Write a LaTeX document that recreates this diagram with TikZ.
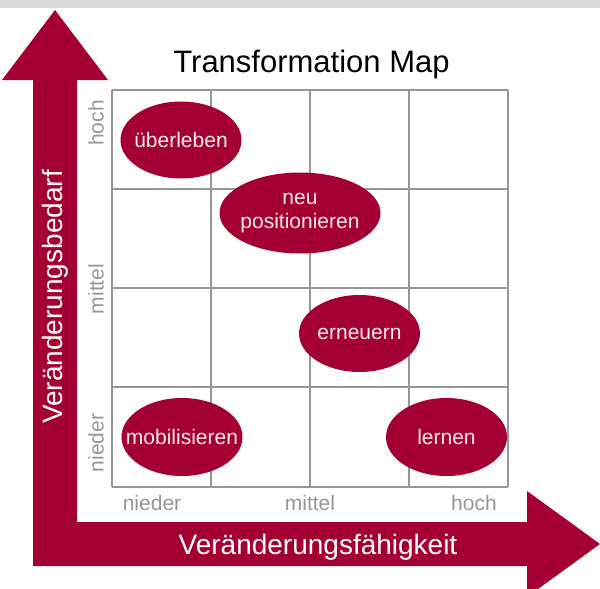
\documentclass[tikz,border=0pt]{standalone}
\usepackage{fontspec}
\setmainfont{Liberation Sans}
\usepackage{xcolor}
\definecolor{bordeaux}{RGB}{165,0,52}
\definecolor{gridgray}{RGB}{150,150,150}
\definecolor{bargray}{RGB}{217,217,217}
\definecolor{lighttext}{RGB}{248,234,239}
\tikzset{
	feldtext/.style={text=lighttext, align=center, font=\fontsize{21}{24}\selectfont},
	stufe/.style={text=gridgray, font=\fontsize{21}{24}\selectfont},
	achse/.style={text=white, font=\fontsize{28}{32}\selectfont}
}

\begin{document}
\begin{tikzpicture}[x=1pt,y=-1pt]
\useasboundingbox (0,0) rectangle (600,589);
\fill[bargray] (0,0) rectangle (600,8);
\begin{scope}
\clip (0,0) rectangle (600,589);
\fill[bordeaux] (33,566) -- (33,80) -- (2,80) -- (55,10) -- (108,80) -- (77,80) -- (77,522)
	-- (527,522) -- (527,491) -- (600,544) -- (527,597) -- (527,566) -- cycle;
\end{scope}
\foreach \i in {112,211,310,409,508}{
	\draw[gridgray, line width=2pt] (\i,90) -- (\i,487);
	}
\foreach \i in {90,189,288,387,487}{
	\draw[gridgray, line width=2pt] (112,\i) -- (508,\i);
	}

\node[anchor=base, font=\fontsize{31}{36}\selectfont] (titel) at (311.5,72) {Transformation Map};

\fill[bordeaux] (181,140) ellipse [x radius=60.5, y radius=38.5];
\fill[bordeaux] (300,213) ellipse [x radius=80.5, y radius=40.5];
\fill[bordeaux] (359.5,333.5) ellipse [x radius=60.5, y radius=38.5];
\fill[bordeaux] (182,437) ellipse [x radius=60.5, y radius=39];
\fill[bordeaux] (446.5,437) ellipse [x radius=60.5, y radius=39];
\node[feldtext] (ueberleben) at (181,140) {überleben};
\node[feldtext] (neupos) at (300,213) {neu\\positionieren};
\node[feldtext] (erneuern) at (359.5,333.5) {erneuern};
\node[feldtext] (mobilisieren) at (182,437) {mobilisieren};
\node[feldtext] (lernen) at (446.5,437) {lernen};

\node[stufe, rotate=90] (vhoch) at (96,123) {hoch};
\node[stufe, rotate=90] (vmittel) at (96,289) {mittel};
\node[stufe, rotate=90] (vnieder) at (96,443) {nieder};
\node[stufe] (hnieder) at (152,503) {nieder};
\node[stufe] (hmittel) at (310,503) {mittel};
\node[stufe] (hhoch) at (474,503) {hoch};

\node[achse, rotate=90] (bedarf) at (55,297) {Veränderungsbedarf};
\node[achse] (faehigkeit) at (318,547) {Veränderungsfähigkeit};
\end{tikzpicture}
\end{document}
